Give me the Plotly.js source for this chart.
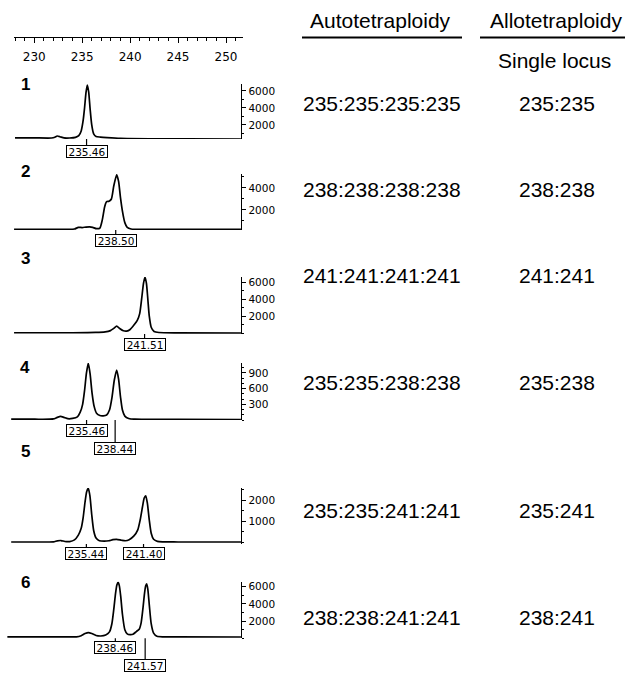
<!DOCTYPE html>
<html>
<head>
<meta charset="utf-8">
<script src="https://cdn.plot.ly/plotly-3.0.1.min.js"></script>
<style>html,body{margin:0;padding:0;background:#fff;}#chart{width:625px;height:675px;}</style>
</head>
<body>
<div id="chart"></div>
<script>
// ---------------- DATA ----------------
const sizeTicks = [230, 235, 240, 245, 250];
const panelNames = ["1", "2", "3", "4", "5", "6"];

const p1_bp  = [228.0, 230.0, 231.8, 232.15, 232.4, 232.7, 233.1, 233.7, 234.3, 234.65, 234.9, 235.1, 235.25, 235.4, 235.54, 235.68, 235.83, 236.0, 236.2, 236.45, 236.9, 237.6, 239.0, 242.0, 246.0, 251.56];
const p1_rfu = [480, 480, 470, 560, 700, 620, 480, 470, 540, 750, 1300, 2500, 4000, 5800, 6700, 5900, 3900, 2000, 950, 640, 580, 520, 430, 380, 360, 350];

const p2_bp  = [227.9, 230.0, 233.0, 234.2, 234.6, 235.0, 235.4, 235.8, 236.1, 236.5, 236.85, 237.1, 237.35, 237.55, 237.8, 238.05, 238.3, 238.6, 238.8, 239.0, 239.2, 239.45, 239.7, 240.1, 243.0, 251.56];
const p2_rfu = [250, 250, 250, 270, 420, 400, 450, 470, 420, 300, 360, 1100, 2300, 2750, 2800, 3000, 4200, 5200, 4600, 3100, 1900, 850, 420, 270, 250, 240];

const p3_bp  = [227.9, 230.0, 234.0, 236.4, 237.4, 237.95, 238.3, 238.6, 238.9, 239.3, 239.65, 240.0, 240.4, 240.75, 241.0, 241.2, 241.4, 241.55, 241.7, 241.85, 242.0, 242.2, 242.5, 243.0, 245.0, 251.56];
const p3_rfu = [50, 50, 50, 80, 150, 300, 560, 820, 560, 280, 240, 430, 950, 1500, 2300, 4000, 5900, 6600, 5900, 4000, 2000, 700, 200, 80, 40, 20];

const p4_bp  = [227.6, 230.0, 232.0, 232.4, 232.75, 233.1, 233.5, 234.0, 234.5, 234.8, 235.05, 235.25, 235.45, 235.64, 235.83, 236.03, 236.25, 236.5, 236.85, 237.2, 237.55, 237.85, 238.1, 238.35, 238.6, 238.8, 239.0, 239.2, 239.45, 239.85, 240.5, 245.0, 251.56];
const p4_rfu = [15, 15, 20, 50, 68, 50, 25, 30, 60, 150, 300, 560, 900, 1085, 880, 520, 260, 130, 85, 80, 95, 190, 420, 760, 955, 780, 440, 190, 75, 30, 15, 12, 10];

const p5_bp  = [227.6, 230.0, 232.0, 232.4, 232.8, 233.2, 233.7, 234.2, 234.6, 234.9, 235.1, 235.3, 235.47, 235.64, 235.81, 236.0, 236.2, 236.45, 236.8, 237.3, 237.8, 238.2, 238.6, 239.1, 239.5, 239.9, 240.4, 240.8, 241.05, 241.3, 241.47, 241.63, 241.8, 242.0, 242.2, 242.45, 242.85, 245.0, 251.56];
const p5_rfu = [0, 0, 10, 55, 70, 25, 20, 100, 330, 650, 1150, 1900, 2400, 2560, 2200, 1300, 550, 190, 60, 40, 60, 110, 125, 85, 60, 110, 290, 580, 1050, 1700, 2100, 2205, 1850, 1050, 420, 130, 30, 0, 0];

const p6_bp  = [227.2, 230.0, 233.0, 234.4, 234.9, 235.3, 235.65, 236.0, 236.45, 236.95, 237.45, 237.85, 238.1, 238.3, 238.48, 238.62, 238.75, 238.88, 239.02, 239.2, 239.45, 239.7, 240.0, 240.3, 240.65, 240.95, 241.15, 241.35, 241.5, 241.62, 241.73, 241.85, 242.0, 242.2, 242.45, 242.8, 243.5, 245.0, 251.56];
const p6_rfu = [160, 160, 160, 170, 300, 550, 670, 560, 330, 270, 380, 750, 1700, 3400, 5200, 6200, 6550, 6100, 4900, 2800, 1000, 520, 430, 470, 780, 1050, 1800, 3600, 5200, 6100, 6350, 5700, 3900, 1700, 600, 230, 170, 160, 150];

const p1_calls = [235.46];
const p2_calls = [238.50];
const p3_calls = [241.51];
const p4_calls = [235.46, 238.44];
const p5_calls = [235.44, 241.40];
const p6_calls = [238.46, 241.57];

const p1_yticks = [2000, 4000, 6000];
const p2_yticks = [2000, 4000];
const p3_yticks = [2000, 4000, 6000];
const p4_yticks = [300, 600, 900];
const p5_yticks = [1000, 2000];
const p6_yticks = [2000, 4000, 6000];

const autoHeader = "Autotetraploidy";
const alloHeader = "Allotetraploidy";
const alloSub = "Single locus";
const autoGenotypes = ["235:235:235:235", "238:238:238:238", "241:241:241:241", "235:235:238:238", "235:235:241:241", "238:238:241:241"];
const alloGenotypes = ["235:235", "238:238", "241:241", "235:238", "235:241", "238:241"];

// ---------------- LAYOUT ----------------
const W = 625, H = 675;
const py = p => 1 - p / H;
const pxr = p => p / W;

const bps = [p1_bp, p2_bp, p3_bp, p4_bp, p5_bp, p6_bp];
const rfus = [p1_rfu, p2_rfu, p3_rfu, p4_rfu, p5_rfu, p6_rfu];
const calls = [p1_calls, p2_calls, p3_calls, p4_calls, p5_calls, p6_calls];
const yticks = [p1_yticks, p2_yticks, p3_yticks, p4_yticks, p5_yticks, p6_yticks];

const geom = [
  {top: 84,  bot: 139, range: [350, 6820],  minor: 1000, boxY: [151],        label: 84,  row: 103},
  {top: 174, bot: 230, range: [180, 5270],  minor: 1000, boxY: [240],        label: 171, row: 190},
  {top: 277, bot: 334, range: [-100, 6620], minor: 1000, boxY: [344],        label: 258, row: 275},
  {top: 363, bot: 420, range: [0, 1090],    minor: 100,  boxY: [430, 448.5], label: 367, row: 382},
  {top: 488, bot: 544, range: [-95, 2575],  minor: 500,  boxY: [553.8, 553.8], label: 451, row: 510},
  {top: 581.7, bot: 638.3, range: [0, 6590], minor: 1000, boxY: [647.5, 665.5], label: 582, row: 617}
];

const xRange = [226.955, 251.564];   // for panel domain 5..241 px
const xDom = [pxr(5), pxr(241)];

const traces = [];
const layout = {
  width: W, height: H,
  margin: {l: 0, r: 0, t: 0, b: 0},
  paper_bgcolor: '#fff', plot_bgcolor: 'rgba(0,0,0,0)',
  showlegend: false,
  font: {family: 'Liberation Sans, Arial, sans-serif', color: '#000'},
  annotations: [], shapes: []
};

for (let i = 0; i < 6; i++) {
  const n = i + 1;
  const xa = 'x' + n, ya = 'y' + n;
  const g = geom[i];
  traces.push({
    type: 'scatter', mode: 'lines', x: bps[i], y: rfus[i],
    xaxis: xa, yaxis: ya, hoverinfo: 'skip',
    line: {color: '#000', width: 1.7, shape: 'spline', smoothing: 0.6}
  });
  layout['xaxis' + n] = {
    domain: xDom, range: xRange, anchor: ya, visible: false, fixedrange: true
  };
  layout['yaxis' + n] = {
    domain: [py(g.bot), py(g.top)], range: g.range, anchor: xa, side: 'right',
    showline: true, linecolor: '#000', linewidth: 1.3, mirror: false,
    showgrid: false, zeroline: false,
    ticks: 'outside', ticklen: 4, tickwidth: 1, tickcolor: '#000',
    tickmode: 'array', tickvals: yticks[i], ticktext: yticks[i].map(String),
    minor: {tickmode: 'linear', tick0: 0, dtick: g.minor, ticks: 'outside', ticklen: 2, tickwidth: 1, tickcolor: '#000', showgrid: false},
    tickfont: {family: 'DejaVu Sans', size: 10.5, color: '#000'},
    fixedrange: true
  };
  // panel number
  layout.annotations.push({
    xref: 'paper', yref: 'paper', x: pxr(25), y: py(g.label), xanchor: 'center', yanchor: 'middle',
    text: '<b>' + panelNames[i] + '</b>', showarrow: false,
    font: {family: 'Liberation Sans, Arial', size: 17, color: '#000'}
  });
  // allele call boxes
  calls[i].forEach((c, k) => {
    const by = g.boxY[k];
    layout.annotations.push({
      xref: xa, yref: 'paper', x: c, y: py(by), xanchor: 'center', yanchor: 'middle',
      text: c.toFixed(2), showarrow: false,
      bordercolor: '#000', borderwidth: 1, borderpad: 1, bgcolor: '#fff',
      width: 38, height: 9,
      font: {family: 'DejaVu Sans', size: 10.5, color: '#000'}
    });
    layout.shapes.push({
      type: 'line', xref: xa, yref: 'paper', x0: c, x1: c,
      y0: py(g.bot), y1: py(by - 6), line: {color: '#000', width: 1.2}
    });
  });
  // genotype text
  layout.annotations.push({
    xref: 'paper', yref: 'paper', x: pxr(382), y: py(g.row), xanchor: 'center', yanchor: 'middle',
    text: autoGenotypes[i], showarrow: false,
    font: {family: 'Liberation Sans, Arial', size: 21, color: '#000'}
  });
  layout.annotations.push({
    xref: 'paper', yref: 'paper', x: pxr(557), y: py(g.row), xanchor: 'center', yanchor: 'middle',
    text: alloGenotypes[i], showarrow: false,
    font: {family: 'Liberation Sans, Arial', size: 21, color: '#000'}
  });
}

// top size axis
traces.push({type: 'scatter', mode: 'lines', x: [], y: [], xaxis: 'x7', yaxis: 'y7', hoverinfo: 'skip'});
layout.xaxis7 = {
  domain: [pxr(14), pxr(243)], range: [227.894, 251.772], anchor: 'y7', side: 'bottom',
  showline: true, linecolor: '#000', linewidth: 1.3, showgrid: false, zeroline: false,
  ticks: 'outside', ticklen: 5, tickwidth: 1, tickcolor: '#000',
  tickmode: 'array', tickvals: sizeTicks, ticktext: sizeTicks.map(String),
  minor: {tickmode: 'linear', tick0: 0, dtick: 1, ticks: 'outside', ticklen: 3, tickwidth: 1, tickcolor: '#000', showgrid: false},
  tickfont: {family: 'DejaVu Sans', size: 12, color: '#000'},
  ticklabelstandoff: 4,
  fixedrange: true
};
layout.yaxis7 = {domain: [py(36.7), py(20)], visible: false, range: [0, 1], fixedrange: true};

// headers
layout.annotations.push({
  xref: 'paper', yref: 'paper', x: pxr(380), y: py(21), xanchor: 'center', yanchor: 'middle',
  text: autoHeader, showarrow: false, font: {family: 'Liberation Sans, Arial', size: 21, color: '#000'}
});
layout.annotations.push({
  xref: 'paper', yref: 'paper', x: pxr(556), y: py(21), xanchor: 'center', yanchor: 'middle',
  text: alloHeader, showarrow: false, font: {family: 'Liberation Sans, Arial', size: 21, color: '#000'}
});
layout.annotations.push({
  xref: 'paper', yref: 'paper', x: pxr(554), y: py(60), xanchor: 'center', yanchor: 'middle',
  text: alloSub, showarrow: false, font: {family: 'Liberation Sans, Arial', size: 21, color: '#000'}
});
layout.shapes.push({type: 'line', xref: 'paper', yref: 'paper', x0: pxr(302), x1: pxr(462), y0: py(37.5), y1: py(37.5), line: {color: '#000', width: 2}});
layout.shapes.push({type: 'line', xref: 'paper', yref: 'paper', x0: pxr(480), x1: pxr(625), y0: py(37.5), y1: py(37.5), line: {color: '#000', width: 2}});

Plotly.newPlot('chart', traces, layout, {displayModeBar: false, staticPlot: true});
</script>
</body>
</html>
